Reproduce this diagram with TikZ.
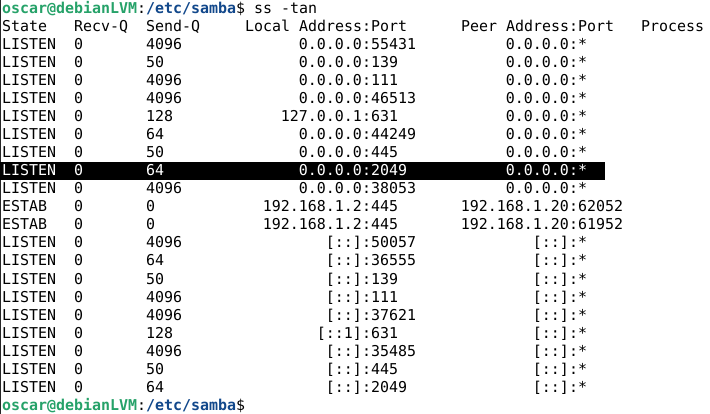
\documentclass[tikz,border=0pt]{standalone}
\usepackage{fontspec}
\setmonofont{DejaVu Sans Mono}
\definecolor{promptgreen}{HTML}{26A269}
\definecolor{promptblue}{HTML}{12488B}

\begin{document}
\begin{tikzpicture}[x=1pt, y=-1pt,
	cell/.style={anchor=base west, inner sep=0pt, font=\ttfamily\fontsize{14.95}{18}\selectfont},
	cellr/.style={cell, anchor=base east},
	line 9/.style={text=white}]
		\useasboundingbox (0,0) rectangle (710,414);
		\fill[white] (0,0) rectangle (710,414);
		\fill[black!85] (0,0) rectangle (1,414);
		\fill[black] (0,162) rectangle (605,180);
		% prompt and header
		\node[cell] (prompt) at (2,14) {{\bfseries\color{promptgreen}oscar@debianLVM}:{\bfseries\color{promptblue}/etc/samba}\$ ss -tan};
		\node[cell] (hstate) at (2,32) {State};
		\node[cell] (hrecv) at (74,32) {Recv-Q};
		\node[cell] (hsend) at (146,32) {Send-Q};
		\node[cell] (hlocal) at (245,32) {Local Address:Port};
		\node[cell] (hpeer) at (461,32) {Peer Address:Port};
		\node[cell] (hproc) at (641,32) {Process};
		% sockets, address right of the colon column
		\foreach \i/\st/\rq/\sq/\la/\lp/\pa/\pp in {
		  2/LISTEN/0/4096/0.0.0.0/55431/0.0.0.0/*,
		  3/LISTEN/0/50/0.0.0.0/139/0.0.0.0/*,
		  4/LISTEN/0/4096/0.0.0.0/111/0.0.0.0/*,
		  5/LISTEN/0/4096/0.0.0.0/46513/0.0.0.0/*,
		  6/LISTEN/0/128/127.0.0.1/631/0.0.0.0/*,
		  7/LISTEN/0/64/0.0.0.0/44249/0.0.0.0/*,
		  8/LISTEN/0/50/0.0.0.0/445/0.0.0.0/*,
		  9/LISTEN/0/64/0.0.0.0/2049/0.0.0.0/*,
		  10/LISTEN/0/4096/0.0.0.0/38053/0.0.0.0/*,
		  11/ESTAB/0/0/192.168.1.2/445/192.168.1.20/62052,
		  12/ESTAB/0/0/192.168.1.2/445/192.168.1.20/61952,
		  13/LISTEN/0/4096/{[::]}/50057/{[::]}/*,
		  14/LISTEN/0/64/{[::]}/36555/{[::]}/*,
		  15/LISTEN/0/50/{[::]}/139/{[::]}/*,
		  16/LISTEN/0/4096/{[::]}/111/{[::]}/*,
		  17/LISTEN/0/4096/{[::]}/37621/{[::]}/*,
		  18/LISTEN/0/128/{[::1]}/631/{[::]}/*,
		  19/LISTEN/0/4096/{[::]}/35485/{[::]}/*,
		  20/LISTEN/0/50/{[::]}/445/{[::]}/*,
		  21/LISTEN/0/64/{[::]}/2049/{[::]}/*}{
		  \node[cell, line \i/.try] (st\i) at (2,18*\i+14) {\st};
		  \node[cell, line \i/.try] (rq\i) at (74,18*\i+14) {\rq};
		  \node[cell, line \i/.try] (sq\i) at (146,18*\i+14) {\sq};
		  \node[cellr, line \i/.try] (la\i) at (362,18*\i+14) {\la};
		  \node[cell, line \i/.try] (lp\i) at (362,18*\i+14) {:\lp};
		  \node[cellr, line \i/.try] (pa\i) at (569,18*\i+14) {\pa};
		  \node[cell, line \i/.try] (pp\i) at (569,18*\i+14) {:\pp};
		}
		\node[cell] (endprompt) at (2,410) {{\bfseries\color{promptgreen}oscar@debianLVM}:{\bfseries\color{promptblue}/etc/samba}\$};
	\end{tikzpicture}
\end{document}
